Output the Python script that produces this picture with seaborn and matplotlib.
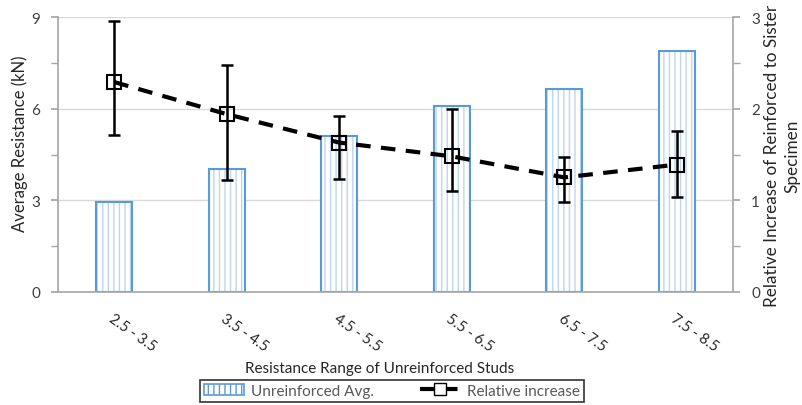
import numpy as np
import matplotlib
matplotlib.use("Agg")
import matplotlib.pyplot as plt
import seaborn as sns
import pandas as pd
from matplotlib.patches import Patch
from matplotlib.lines import Line2D
from matplotlib.ticker import MultipleLocator

categories = ["2.5 - 3.5", "3.5 - 4.5", "4.5 - 5.5", "5.5 - 6.5", "6.5 - 7.5", "7.5 - 8.5"]
avg_resistance = [2.95, 4.02, 5.10, 6.10, 6.64, 7.88]
rel_increase = [2.29, 1.94, 1.63, 1.48, 1.25, 1.39]
rel_upper = [2.96, 2.48, 1.92, 2.00, 1.47, 1.76]
rel_lower = [1.71, 1.22, 1.23, 1.10, 0.98, 1.04]

sns.set_theme(style="white")
plt.rcParams['font.family'] = ['Lato', 'DejaVu Sans']
plt.rcParams['hatch.linewidth'] = 1.0

df = pd.DataFrame({"cat": categories, "avg": avg_resistance})

fig = plt.figure(figsize=(8.03, 4.06), dpi=100)
ax = fig.add_axes([58/803, 1-293/406, (733-58)/803, (293-18)/406])

bar_blue = "#5B9BD5"
hatch_blue = "#BDD7EE"
sns.barplot(data=df, x="cat", y="avg", ax=ax, color="white", width=0.32,
            edgecolor=hatch_blue, linewidth=0, hatch="|||", saturation=1)
sns.barplot(data=df, x="cat", y="avg", ax=ax, fill=False, width=0.32,
            edgecolor=bar_blue, linewidth=1.5, color=bar_blue)

ax.set_ylim(0, 9)
ax.set_xlim(-0.5, 5.5)
ax.yaxis.set_major_locator(MultipleLocator(3))
ax.yaxis.set_minor_locator(MultipleLocator(1.5))
ax.grid(axis="y", color="#D9D9D9", linewidth=1)
ax.set_axisbelow(True)
for s in ["top", "right"]:
    ax.spines[s].set_visible(False)
for s in ["left", "bottom"]:
    ax.spines[s].set_color("#A6A6A6")
    ax.spines[s].set_linewidth(1.2)
ax.tick_params(axis="y", which="both", left=True, length=5, color="#A6A6A6",
               labelsize=11, labelcolor="#404040", pad=8)
ax.tick_params(axis="x", bottom=False, labelsize=10.5, labelcolor="#262626", pad=8)
for lab in ax.get_xticklabels():
    lab.set_rotation(-35)
    lab.set_ha("left")
    lab.set_va("top")
    lab.set_rotation_mode("anchor")
ax.set_xlabel("Resistance Range of Unreinforced Studs", fontsize=11, color="#262626")
ax.xaxis.set_label_coords((380-58)/675, (293-362)/275)
ax.set_ylabel("Average Resistance (kN)", fontsize=12, color="#262626")
ax.yaxis.set_label_coords((28-58)/675, (293-144)/275)

ax2 = ax.twinx()
x = np.arange(len(categories))
yerr = [np.array(rel_increase) - np.array(rel_lower), np.array(rel_upper) - np.array(rel_increase)]
ax2.errorbar(x, rel_increase, yerr=yerr, fmt="none", ecolor="black", elinewidth=1.8,
             capsize=4, capthick=1.8, zorder=3)
ax2.plot(x, rel_increase, color="black", linestyle=(0, (3.5, 2.5)), linewidth=3, zorder=4)
ax2.plot(x, rel_increase, linestyle="none", marker="s", markersize=10,
         markerfacecolor="none", markeredgecolor="black", markeredgewidth=1.5, zorder=5)
ax2.set_ylim(0, 3)
ax2.yaxis.set_major_locator(MultipleLocator(1))
ax2.yaxis.set_minor_locator(MultipleLocator(0.5))
for s in ["top", "left", "bottom"]:
    ax2.spines[s].set_visible(False)
ax2.spines["right"].set_color("#A6A6A6")
ax2.spines["right"].set_linewidth(1.2)
ax2.tick_params(axis="y", which="both", right=True, length=5, color="#A6A6A6",
                labelsize=11, labelcolor="#404040", pad=8)
ax2.set_ylabel("Relative Increase of Reinforced to Sister\nSpecimen", fontsize=12.3,
               color="#262626", linespacing=1.3)
ax2.yaxis.set_label_coords((764-58)/675, (293-156)/275)
ax.set_xlim(-0.5, 5.5)

h1 = Patch(facecolor="white", edgecolor=bar_blue, hatch="|||", linewidth=1.2)
h2 = Line2D([], [], color="black", linestyle="--", linewidth=3, marker="s",
            markersize=8, markerfacecolor="white", markeredgecolor="black")
leg = fig.legend([h1, h2], ["Unreinforced Avg.", "Relative increase"], loc="upper center",
                 bbox_to_anchor=(392/803, 1-381/406), ncol=2, frameon=True, fancybox=False,
                 edgecolor="black", fontsize=11, columnspacing=3.0, handlelength=2.6,
                 handletextpad=0.5, borderpad=0.25, borderaxespad=0, labelcolor="#595959")
leg.get_frame().set_linewidth(1.2)

fig.savefig("out.png", dpi=100)
